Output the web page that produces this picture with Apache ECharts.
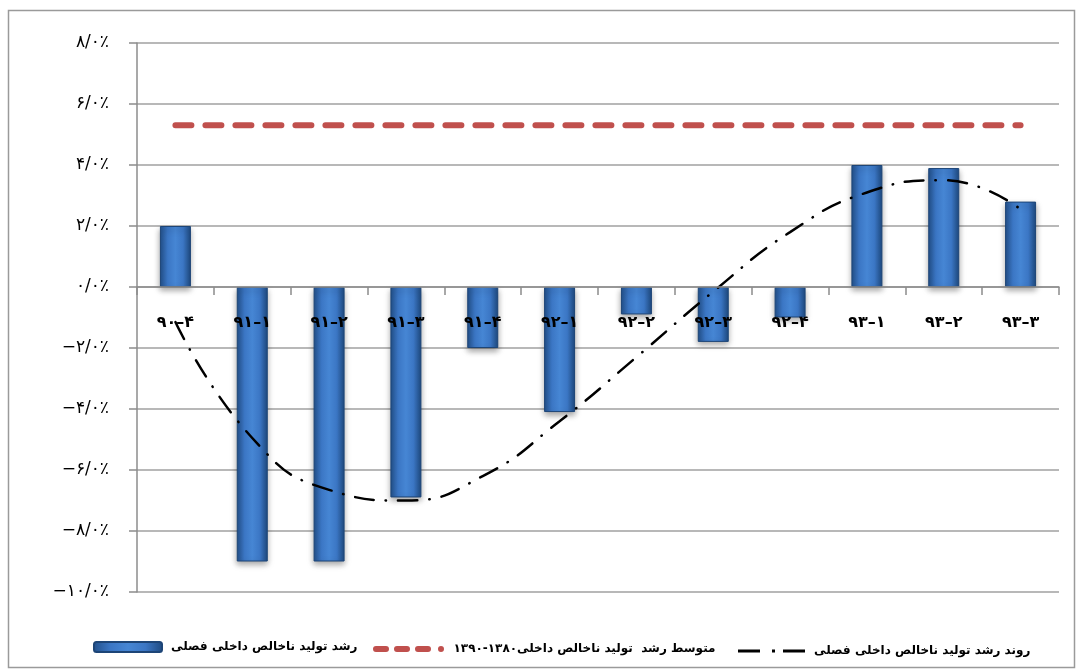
<!DOCTYPE html>
<html>
<head>
<meta charset="utf-8">
<script src="https://cdn.jsdelivr.net/npm/echarts@6/dist/echarts.min.js"></script>
<style>
html,body{margin:0;padding:0;background:#fff;}
#c{width:1079px;height:671px;}
</style>
</head>
<body>
<div id="c"></div>
<script>
const categories = ['۹۰–۴','۹۱–۱','۹۱–۲','۹۱–۳','۹۱–۴','۹۲–۱','۹۲–۲','۹۲–۳','۹۲–۴','۹۳–۱','۹۳–۲','۹۳–۳'];
const quarterlyGrowth = [2.0, -9.0, -9.0, -6.9, -2.0, -4.1, -0.9, -1.8, -1.0, 4.0, 3.9, 2.8];
const averageGrowth = [5.3, 5.3, 5.3, 5.3, 5.3, 5.3, 5.3, 5.3, 5.3, 5.3, 5.3, 5.3];
const trendGrowth = [-1.15, -4.95, -6.65, -7.0, -6.2, -4.4, -2.3, -0.15, 1.8, 3.1, 3.5, 2.55];
const yTicks = { min: -10, max: 8, interval: 2 };

const nameBar = 'رشد تولید ناخالص داخلی فصلی';
const nameAvg = 'متوسط رشد  تولید ناخالص داخلی۱۳۸۰-۱۳۹۰';
const nameTrend = 'روند رشد تولید ناخالص داخلی فصلی';

const faDigits = '۰۱۲۳۴۵۶۷۸۹';
const fa = s => String(s).replace(/\d/g, d => faDigits[d]);
const FONT = 'DejaVu Sans';

const barColor = new echarts.graphic.LinearGradient(0, 0, 1, 0, [
  {offset: 0, color: '#22508a'},
  {offset: 0.25, color: '#3b76c4'},
  {offset: 0.5, color: '#4686d4'},
  {offset: 0.75, color: '#3b76c4'},
  {offset: 1, color: '#1e4a80'}
]);

const iconAvg = 'path://M3,0h10a3,3 0 0 1 0,6h-10a3,3 0 0 1 0,-6z M24,0h10a3,3 0 0 1 0,6h-10a3,3 0 0 1 0,-6z M45,0h10a3,3 0 0 1 0,6h-10a3,3 0 0 1 0,-6z M68,0a3,3 0 0 1 0,6a3,3 0 0 1 0,-6z';
const iconTrend = 'path://M0,0h22v3h-22z M34,0h3v3h-3z M45,0h22v3h-22z';

const grid = {left: 137, right: 20, top: 43, bottom: 79};
const chartH = 671;

const chart = echarts.init(document.getElementById('c'));
const plotH = chartH - grid.top - grid.bottom;
const zeroOffset = -plotH * (0 - yTicks.min) / (yTicks.max - yTicks.min);

const legendBase = {
  orient: 'horizontal', top: 636, selectedMode: false, itemHeight: 10,
  textStyle: {fontFamily: FONT, fontWeight: 'bold', fontSize: 12, color: '#000', padding: [0, 0, 0, 4]}
};
chart.setOption({
  animation: false,
  graphic: [{
    type: 'rect', shape: {x: 8.5, y: 10.5, width: 1066, height: 657},
    style: {fill: 'none', stroke: '#9a9a9a', lineWidth: 1.5}, z: -1
  }],
  grid: grid,
  legend: [
    Object.assign({}, legendBase, {left: 88, itemWidth: 68, data: [nameBar]}),
    Object.assign({}, legendBase, {left: 368, top: 638, itemWidth: 72, itemHeight: 6, data: [{name: nameAvg, icon: iconAvg}]}),
    Object.assign({}, legendBase, {left: 733, top: 640, itemWidth: 67, itemHeight: 3, data: [{name: nameTrend, icon: iconTrend}]})
  ],
  xAxis: {
    type: 'category', data: categories, z: 10, offset: zeroOffset,
    axisLine: {onZero: false, lineStyle: {color: '#8c8c8c', width: 1.5}},
    axisTick: {show: true, length: 8, lineStyle: {color: '#8c8c8c', width: 1.5}},
    axisLabel: {margin: 28, color: '#000', fontFamily: FONT, fontWeight: 'bold', fontSize: 16},
    splitLine: {show: false}
  },
  yAxis: {
    type: 'value', min: yTicks.min, max: yTicks.max, interval: yTicks.interval,
    axisLine: {show: true, lineStyle: {color: '#8c8c8c', width: 1.5}},
    axisTick: {show: true, length: 8, lineStyle: {color: '#8c8c8c', width: 1.5}},
    axisLabel: {
      margin: 28, color: '#000', fontFamily: FONT, fontSize: 17,
      formatter: v => (v < 0 ? '−' : '') + fa(Math.abs(v)) + '/۰٪'
    },
    splitLine: {lineStyle: {color: '#a0a0a0', width: 1.5}}
  },
  series: [
    {
      name: nameBar, type: 'bar', data: quarterlyGrowth, barWidth: 31, z: 2,
      itemStyle: {
        color: barColor, borderColor: '#1d4577', borderWidth: 1,
        shadowBlur: 6, shadowColor: 'rgba(0,0,0,0.35)', shadowOffsetY: 3
      }
    },
    {
      name: nameAvg, type: 'line', data: averageGrowth, symbol: 'none', z: 4,
      itemStyle: {color: '#c0504d'},
      lineStyle: {color: '#c0504d', width: 6, type: [16, 14], cap: 'round'}
    },
    {
      name: nameTrend, type: 'line', data: trendGrowth, symbol: 'none', smooth: true, z: 5,
      itemStyle: {color: '#000'},
      lineStyle: {color: '#000', width: 2.5, type: [19, 12, 0.5, 12], cap: 'round'}
    }
  ]
});
</script>
</body>
</html>
